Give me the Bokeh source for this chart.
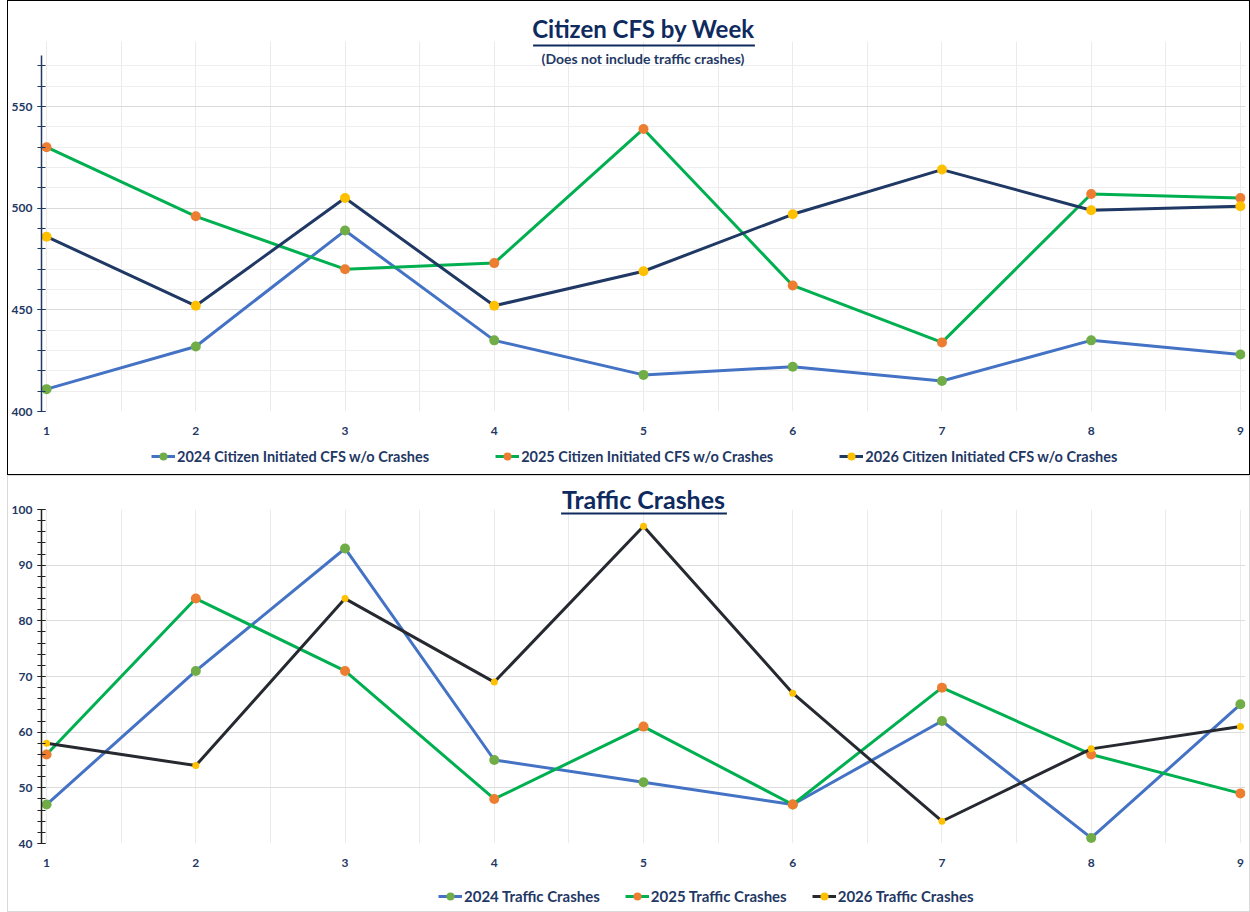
from bokeh.plotting import figure
from bokeh.models import (Range1d, FixedTicker, SingleIntervalTicker, Legend, LegendItem,
                          Label, BoxAnnotation)
from bokeh.layouts import column
from bokeh.embed import file_html
from bokeh.resources import INLINE

# ---------------- data ----------------
weeks = [1, 2, 3, 4, 5, 6, 7, 8, 9]
week_labels = ["1", "2", "3", "4", "5", "6", "7", "8", "9"]

cfs_2024 = [411, 432, 489, 435, 418, 422, 415, 435, 428]
cfs_2025 = [530, 496, 470, 473, 539, 462, 434, 507, 505]
cfs_2026 = [486, 452, 505, 452, 469, 497, 519, 499, 501]
cfs_names = ["2024 Citizen Initiated CFS w/o Crashes",
             "2025 Citizen Initiated CFS w/o Crashes",
             "2026 Citizen Initiated CFS w/o Crashes"]

crash_2024 = [47, 71, 93, 55, 51, 47, 62, 41, 65]
crash_2025 = [56, 84, 71, 48, 61, 47, 68, 56, 49]
crash_2026 = [58, 54, 84, 69, 97, 67, 44, 57, 61]
crash_names = ["2024 Traffic Crashes", "2025 Traffic Crashes", "2026 Traffic Crashes"]

# ---------------- style ----------------
NAVY = "#1F3864"
TITLE_NAVY = "#0E2A5E"
FONT = "Lato"
BLUE = "#4472C4"
GREEN_LINE = "#00B050"
GREEN_MK = "#70AD47"
ORANGE = "#ED7D31"
YELLOW = "#FFC000"
DARK_TOP = "#203864"
DARK_BOT = "#262A30"

W = 1241
BL, BR = 32, 4          # frame gutters (shared by all figures of the column)
PAD = 0.034
X0, X1 = weeks[0] - PAD, weeks[-1] + PAD


def base_fig(height, ymin, ymax, bt, bb, title, title_size, standoff):
    p = figure(width=W, height=height, x_range=Range1d(X0, X1), y_range=Range1d(ymin, ymax),
               output_backend="svg", toolbar_location=None, title=title,
               min_border_left=BL, min_border_top=bt, min_border_bottom=bb, min_border_right=BR,
               outline_line_color=None, background_fill_color="white", border_fill_color="white")
    p.title.align = "center"
    p.title.text_font = FONT
    p.title.text_font_style = "bold"
    p.title.text_font_size = title_size
    p.title.text_color = TITLE_NAVY
    p.title.standoff = standoff
    xa = p.xaxis[0]
    xa.ticker = FixedTicker(ticks=weeks, minor_ticks=[w + 0.5 for w in weeks[:-1]])
    xa.major_label_overrides = {w: l for w, l in zip(weeks, week_labels)}
    xa.axis_line_color = None
    xa.major_tick_line_color = None
    xa.minor_tick_line_color = None
    xa.major_label_standoff = 9
    for ax in (xa, p.yaxis[0]):
        ax.major_label_text_font = FONT
        ax.major_label_text_font_style = "bold"
        ax.major_label_text_font_size = "12px"
        ax.major_label_text_color = NAVY
    p.xgrid.grid_line_color = "#EBEBEB"
    p.xgrid.minor_grid_line_color = "#EBEBEB"
    return p


def style_yaxis(p, interval, color, bounds):
    ya = p.yaxis[0]
    ya.ticker = SingleIntervalTicker(interval=interval, num_minor_ticks=5)
    ya.bounds = bounds
    ya.axis_line_color = color
    ya.axis_line_width = 1.5
    ya.major_tick_line_color = color
    ya.minor_tick_line_color = color
    ya.major_tick_in = 4
    ya.major_tick_out = 4
    ya.minor_tick_in = 4
    ya.minor_tick_out = 4
    ya.major_label_standoff = 5
    p.ygrid.bounds = bounds


def add_series(p, xs, ys, line_color, mk_color, mk_size, lw=3):
    lr = p.line(xs, ys, line_color=line_color, line_width=lw)
    sr = p.scatter(xs, ys, size=mk_size, fill_color=mk_color, line_color=None)
    return [lr, sr]


def legend_fig(height, names, series, styles, loc, spacing, font_size):
    # a strip holding only the legend; its series lie outside its (empty) view
    q = figure(width=W, height=height, x_range=Range1d(-3, -2), y_range=Range1d(-3, -2),
               output_backend="svg", toolbar_location=None, x_axis_location=None,
               y_axis_location=None, min_border_left=BL, min_border_right=BR,
               min_border_top=0, min_border_bottom=0, outline_line_color=None,
               background_fill_color="white", border_fill_color="white")
    q.grid.visible = False
    rends = [add_series(q, weeks, ys, *st) for ys, st in zip(series, styles)]
    items = [LegendItem(label=n, renderers=r) for n, r in zip(names, rends)]
    lg = Legend(items=items, orientation="horizontal", location=loc,
                label_text_font=FONT, label_text_font_style="bold",
                label_text_font_size=font_size, label_text_color=NAVY,
                glyph_width=24, glyph_height=20, label_standoff=2, spacing=spacing,
                padding=0, margin=0, border_line_color=None, background_fill_alpha=0)
    q.add_layout(lg)
    return q


# ---------------- top chart ----------------
TOP_H = 440
YT0, YT1 = 400, 582
top_bt, top_bb = 40, 30
p1 = base_fig(TOP_H, YT0, YT1, top_bt, top_bb, "Citizen CFS by Week", "24px", -3)
style_yaxis(p1, 50, DARK_TOP, (400, 575))
p1.ygrid.grid_line_color = "#D9D9D9"
p1.ygrid.minor_grid_line_color = "#EEEEEE"

top_series = [cfs_2024, cfs_2025, cfs_2026]
top_styles = [(BLUE, GREEN_MK, 10), (GREEN_LINE, ORANGE, 10), (DARK_TOP, YELLOW, 10)]
for ys, st in zip(top_series, top_styles):
    add_series(p1, weeks, ys, *st)

fw1 = W - BL - BR
fh1 = TOP_H - top_bt - top_bb
PX0 = 8  # page x of the figures' left edge


def tx1(px):
    return X0 + (px - PX0 - BL) / fw1 * (X1 - X0)


def ty1(py):
    return YT1 - (py - 1 - top_bt) / fh1 * (YT1 - YT0)


p1.add_layout(Label(x=tx1(642), y=ty1(58), text="(Does not include traffic crashes)",
                    text_align="center", text_baseline="middle", text_font=FONT,
                    text_font_style="bold", text_font_size="14px", text_color=NAVY))
p1.add_layout(BoxAnnotation(left=tx1(532), right=tx1(754), top=ty1(44), bottom=ty1(46),
                            fill_color=TITLE_NAVY, fill_alpha=1, line_color=None))

leg1 = legend_fig(33, cfs_names, top_series, top_styles, (110, 8), 66, "14.5px")

# ---------------- bottom chart ----------------
BOT_H = 402
bot_bt, bot_bb = 33, 35
p2 = base_fig(BOT_H, 40, 100, bot_bt, bot_bb, "Traffic Crashes", "25px", -8)
style_yaxis(p2, 10, "#222222", (40, 100))
p2.ygrid.grid_line_color = "#DDDDDD"
p2.ygrid.minor_grid_line_color = None

bot_series = [crash_2024, crash_2025, crash_2026]
bot_styles = [(BLUE, GREEN_MK, 10), (GREEN_LINE, ORANGE, 10), (DARK_BOT, YELLOW, 7)]
for ys, st in zip(bot_series, bot_styles):
    add_series(p2, weeks, ys, *st)

fw2 = W - BL - BR
fh2 = BOT_H - bot_bt - bot_bb


def tx2(px):
    return X0 + (px - PX0 - BL) / fw2 * (X1 - X0)


def ty2(py):
    return 100 - (py - 476 - bot_bt) / fh2 * (100 - 40)


p2.add_layout(BoxAnnotation(left=tx2(560), right=tx2(726), top=ty2(512), bottom=ty2(514),
                            fill_color=TITLE_NAVY, fill_alpha=1, line_color=None))

leg2 = legend_fig(33, crash_names, bot_series, bot_styles, (397, 5), 25, "15px")

top_box = column(p1, leg1, spacing=0, margin=(0, 0, 0, 7),
                 styles={"border": "1px solid #000000"})
bot_box = column(p2, leg2, spacing=0, margin=(0, 0, 0, 7),
                 styles={"border": "1px solid #D9D9D9"})
layout = column(top_box, bot_box, spacing=0)
open("out.html", "w").write(file_html(layout, INLINE))
